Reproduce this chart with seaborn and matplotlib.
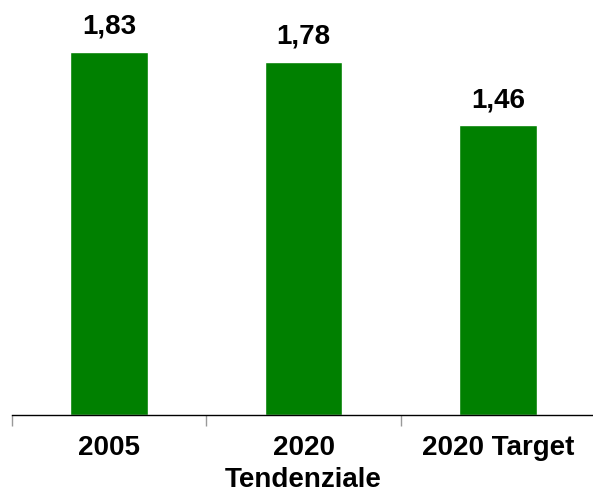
import matplotlib
matplotlib.use("Agg")
import matplotlib.pyplot as plt
import seaborn as sns
import pandas as pd

categories = ["2005", "2020\nTendenziale", "2020 Target"]
values = [1.83, 1.78, 1.46]
value_labels = ["1,83", "1,78", "1,46"]

sns.set_style("white")
plt.rcParams["font.family"] = ["Liberation Sans", "DejaVu Sans"]
plt.rcParams["text.color"] = "black"
plt.rcParams["xtick.color"] = "black"

df = pd.DataFrame({"categoria": categories, "valore": values})

fig = plt.figure(figsize=(5.93, 4.92), dpi=100)
ax = fig.add_axes([12 / 593, 77 / 492, 583 / 593, 397 / 492])

sns.barplot(data=df, x="categoria", y="valore", color="#008000",
            saturation=1, width=0.4, ax=ax)

ax.set_ylim(0, 2.0)
ax.set_xlim(-0.5, 2.5)
ax.set_xlabel("")
ax.set_ylabel("")
ax.set_yticks([])

for side in ["top", "right", "left"]:
    ax.spines[side].set_visible(False)
ax.spines["bottom"].set_color("black")
ax.spines["bottom"].set_linewidth(1.0)

# category labels centred on the bars, tick marks at the boundaries
ax.set_xticks(range(len(categories)))
ax.set_xticklabels(categories, fontsize=20, fontweight="bold",
                   linespacing=1.3, va="top", color="black")
ax.tick_params(axis="x", which="major", length=0, pad=14.5)
ax.set_xticks([-0.5, 0.5, 1.5, 2.5], minor=True)
ax.tick_params(axis="x", which="minor", length=8, width=1, color="#999999",
               direction="out", bottom=True)

for patch, lab in zip(ax.patches, value_labels):
    x = patch.get_x() + patch.get_width() / 2
    y = patch.get_height()
    ax.annotate(lab, (x, y), xytext=(0, 8.5), textcoords="offset points",
                ha="center", va="bottom", fontsize=20, fontweight="bold",
                color="black", annotation_clip=False)

fig.savefig("out.png", dpi=100)
